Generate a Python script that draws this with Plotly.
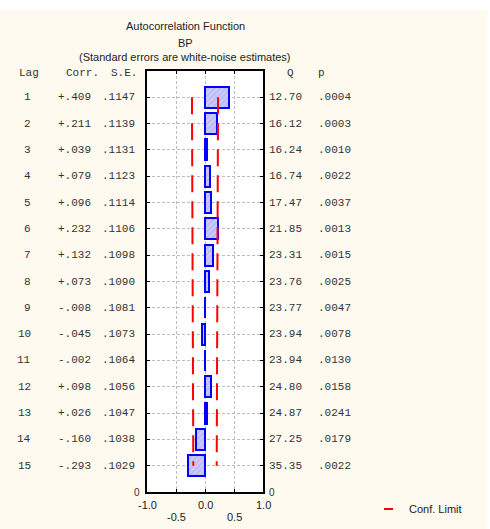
import plotly.graph_objects as go

W, H = 490, 529

lags = list(range(1, 16))
corr = [0.409, 0.211, 0.039, 0.079, 0.096, 0.232, 0.132, 0.073,
        -0.008, -0.045, -0.002, 0.098, 0.026, -0.160, -0.293]
std_err = [0.1147, 0.1139, 0.1131, 0.1123, 0.1114, 0.1106, 0.1098, 0.1090,
           0.1081, 0.1073, 0.1064, 0.1056, 0.1047, 0.1038, 0.1029]
q_stat = [12.70, 16.12, 16.24, 16.74, 17.47, 21.85, 23.31, 23.76,
          23.77, 23.94, 23.94, 24.80, 24.87, 27.25, 35.35]
p_val = [0.0004, 0.0003, 0.0010, 0.0022, 0.0037, 0.0013, 0.0015, 0.0025,
         0.0047, 0.0078, 0.0130, 0.0158, 0.0241, 0.0179, 0.0022]
x_ticks = [-1.0, -0.5, 0.0, 0.5, 1.0]
x_tick_text = ["-1.0", "-0.5", "0.0", "0.5", "1.0"]

# 95% confidence limits from the white-noise standard errors
upper = [1.96 * s for s in std_err]
lower = [-u for u in upper]

MONO = "Liberation Mono, Courier New, monospace"
SANS = "Liberation Sans, Arial, sans-serif"
TXT = "#333333"


def px(x):
    return x / W


def py(y):
    return 1 - y / H


fig = go.Figure()

fig.add_trace(go.Bar(
    x=corr, y=lags, orientation="h", width=0.8,
    marker=dict(
        color="#cacafb",
        line=dict(color="#0000ff", width=2),
        pattern=dict(shape="/", fgcolor="#9d9df2", size=4, solidity=0.3),
    ),
    showlegend=False, hoverinfo="skip",
))

for xs in (lower, upper):
    fig.add_trace(go.Scatter(
        x=xs, y=lags, mode="lines",
        line=dict(color="#ff0000", width=2, dash="17px,9px"),
        showlegend=False, hoverinfo="skip",
    ))

ann = []
# titles
for text, y in (("Autocorrelation Function", 26), ("BP", 43),
                ("(Standard errors are white-noise estimates)", 57)):
    ann.append(dict(text=text, x=px(185), y=py(y), xref="paper", yref="paper",
                    xanchor="center", yanchor="middle", showarrow=False,
                    font=dict(family=SANS, size=11, color="#222222")))

# column headers
for text, x in (("Lag", 17), ("Corr.", 64), ("S.E.", 109), ("Q", 285), ("p", 316)):
    ann.append(dict(text=text, x=px(x), y=py(73), xref="paper", yref="paper",
                    xanchor="left", yanchor="middle", showarrow=False,
                    font=dict(family=MONO, size=11, color=TXT)))

# table rows
for lag, c, s, q, p in zip(lags, corr, std_err, q_stat, p_val):
    c_txt = ("+" if c >= 0 else "-") + f"{abs(c):.3f}"[1:]
    cells = ((str(lag), 33, "right"), (c_txt, 93, "right"),
             (f"{s:.4f}"[1:], 137, "right"), (f"{q:.2f}", 304, "right"),
             (f"{p:.4f}"[1:], 316, "left"))
    for text, x, anchor in cells:
        ann.append(dict(text=text, x=px(x), y=lag, xref="paper", yref="y",
                        xanchor=anchor, yanchor="middle", showarrow=False,
                        font=dict(family=MONO, size=11, color=TXT)))

# zero labels at the bottom of both row scales
for x in (137, 272):
    ann.append(dict(text="0", x=px(x), y=py(492), xref="paper", yref="paper",
                    xanchor="center", yanchor="middle", showarrow=False,
                    font=dict(family=SANS, size=10, color=TXT)))

# staggered x tick labels
for i, (v, t) in enumerate(zip(x_ticks, x_tick_text)):
    ann.append(dict(text=t, x=v, y=py(505 if i % 2 == 0 else 517),
                    xref="x", yref="paper", xanchor="center", yanchor="middle",
                    showarrow=False, font=dict(family=SANS, size=11, color="#222222")))

# legend
ann.append(dict(text="Conf. Limit", x=px(407), y=py(509), xref="paper", yref="paper",
                xanchor="left", yanchor="middle", showarrow=False,
                font=dict(family=SANS, size=11, color="#222222")))

shapes = [
    dict(type="line", xref="paper", yref="paper", x0=px(384), x1=px(393),
         y0=py(509), y1=py(509), line=dict(color="#ff0000", width=2)),
    dict(type="rect", xref="paper", yref="paper", x0=0, x1=1, y0=py(10), y1=1,
         fillcolor="white", line=dict(width=0), layer="above"),
    dict(type="rect", xref="paper", yref="paper", x0=px(487), x1=1, y0=0, y1=1,
         fillcolor="white", line=dict(width=0), layer="above"),
]

fig.update_layout(
    width=W, height=H,
    margin=dict(l=0, r=0, t=0, b=0, pad=0),
    paper_bgcolor="#fefaef",
    plot_bgcolor="white",
    bargap=0,
    annotations=ann,
    shapes=shapes,
    xaxis=dict(
        domain=[px(147), px(263)], range=[-1, 1],
        tickvals=x_ticks, showticklabels=False,
        ticks="inside", ticklen=3, tickcolor="black",
        showline=True, linecolor="black", linewidth=2, mirror="ticks",
        showgrid=True, gridcolor="#bdbdbd", gridwidth=1, griddash="3px,2px",
        zeroline=False,
    ),
    yaxis=dict(
        domain=[py(492), py(71)], range=[16, 0],
        tickvals=lags, showticklabels=False,
        ticks="inside", ticklen=3, tickcolor="black",
        showline=True, linecolor="black", linewidth=2, mirror="ticks",
        showgrid=True, gridcolor="#bdbdbd", gridwidth=1, griddash="3px,2px",
        zeroline=False,
    ),
)

fig.write_html("out.html")
